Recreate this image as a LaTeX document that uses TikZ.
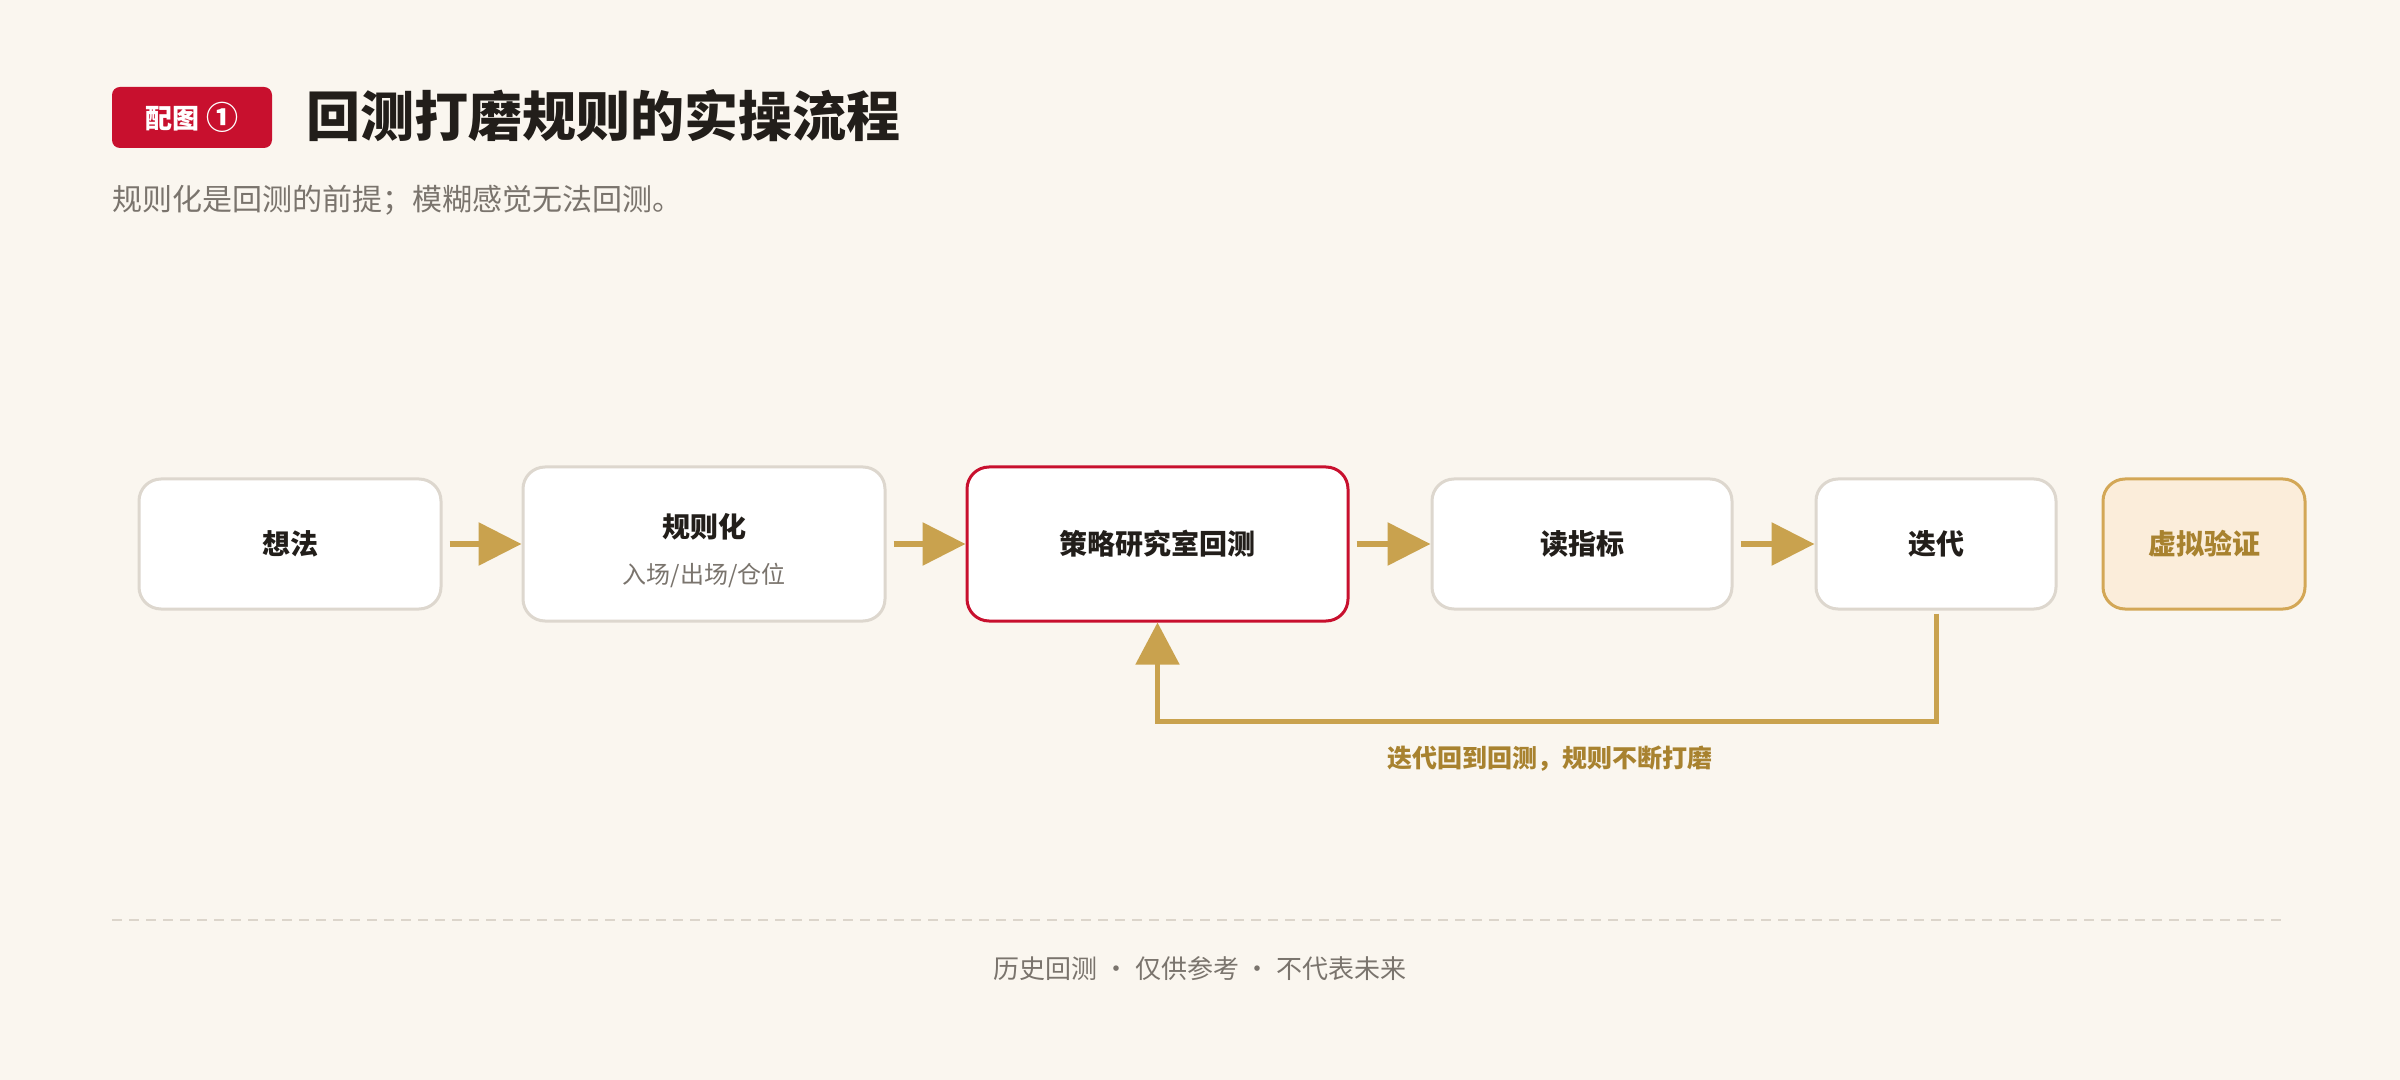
\documentclass[tikz,border=0pt]{standalone}
\usepackage{fontspec}
\setmainfont{Noto Sans CJK SC}
\usetikzlibrary{arrows.meta}
\definecolor{bgcream}{HTML}{FAF6EF}
\definecolor{badgered}{HTML}{C8102E}
\definecolor{inkdark}{HTML}{221E1A}
\definecolor{inkgrey}{HTML}{7A746D}
\definecolor{boxgrey}{HTML}{DDD7CE}
\definecolor{goldline}{HTML}{C9A24E}
\definecolor{goldtext}{HTML}{A8822F}
\definecolor{goldfill}{HTML}{FBEDDA}
\definecolor{goldedge}{HTML}{D3A756}
\definecolor{dashgrey}{HTML}{DCD5CB}
\begin{document}
\begin{tikzpicture}[x=0.5pt,y=-0.5pt,
  box/.style={draw=boxgrey,line width=1.5pt,fill=white,rounded corners=11pt,
    minimum height=65pt,inner sep=0pt,text=inkdark,
    font=\fontsize{14pt}{17pt}\selectfont\bfseries},
  flow/.style={draw=goldline,line width=3pt,-{Triangle[length=21.5pt,width=21pt]}},
  back/.style={draw=goldline,line width=2.5pt,-{Triangle[length=21pt,width=21.5pt]}}]
\useasboundingbox (0,0) rectangle (2400,1080);
\fill[bgcream] (0,0) rectangle (2400,1080);

\node[fill=badgered,rounded corners=4pt,minimum width=80pt,minimum height=30.5pt,inner sep=0pt,
  text=white,font=\fontsize{13.5pt}{16pt}\selectfont\bfseries] (badge) at (192,117.5)
  {配图 \raisebox{-0.8pt}{\fontsize{16pt}{16pt}\selectfont ①}};
\node[anchor=west,inner sep=0pt,text=inkdark,font=\fontsize{27pt}{32pt}\selectfont\bfseries]
  (title) at (306,116) {回测打磨规则的实操流程};
\node[anchor=west,inner sep=0pt,text=inkgrey,font=\fontsize{15pt}{18pt}\selectfont]
  (subtitle) at (112,200) {规则化是回测的前提；模糊感觉无法回测。};

\node[box,minimum width=151pt] (idea) at (290,544) {想法};
\node[box,minimum width=181pt,minimum height=77pt] (rule) at (704,544) {};
\node[inner sep=0pt,text=inkdark,font=\fontsize{14pt}{17pt}\selectfont\bfseries] (ruletext) at (704,527) {规则化};
\node[inner sep=0pt,text=inkgrey,font=\fontsize{12pt}{14pt}\selectfont] (rulesub) at (704,575) {入场/出场/仓位};
\node[box,draw=badgered,minimum width=190.5pt,minimum height=77pt] (test) at (1157.5,544) {策略研究室回测};
\node[box,minimum width=150pt] (read) at (1582,544) {读指标};
\node[box,minimum width=120pt] (iter) at (1936,544) {迭代};
\node[box,draw=goldedge,fill=goldfill,text=goldtext,minimum width=101pt] (virt) at (2204,544) {虚拟验证};

\draw[flow] ([xshift=3.5pt]idea.east) -- (rule.west);
\draw[flow] ([xshift=3.5pt]rule.east) -- (test.west);
\draw[flow] ([xshift=3.5pt]test.east) -- (read.west);
\draw[flow] ([xshift=3.5pt]read.east) -- (iter.west);

\draw[back] ([yshift=-1.5pt]iter.south) -- ++(0,108) -| (test.south);
\node[inner sep=0pt,text=goldtext,font=\fontsize{12.5pt}{15pt}\selectfont\bfseries] (backlabel) at (1550,759) {迭代回到回测，规则不断打磨};

\draw[dashgrey,line width=1pt,dash pattern=on 5pt off 3.5pt] (112,920) -- (2281,920);
\node[inner sep=0pt,text=inkgrey,font=\fontsize{13pt}{16pt}\selectfont] (footer) at (1200,969) {历史回测 · 仅供参考 · 不代表未来};
\end{tikzpicture}
\end{document}
